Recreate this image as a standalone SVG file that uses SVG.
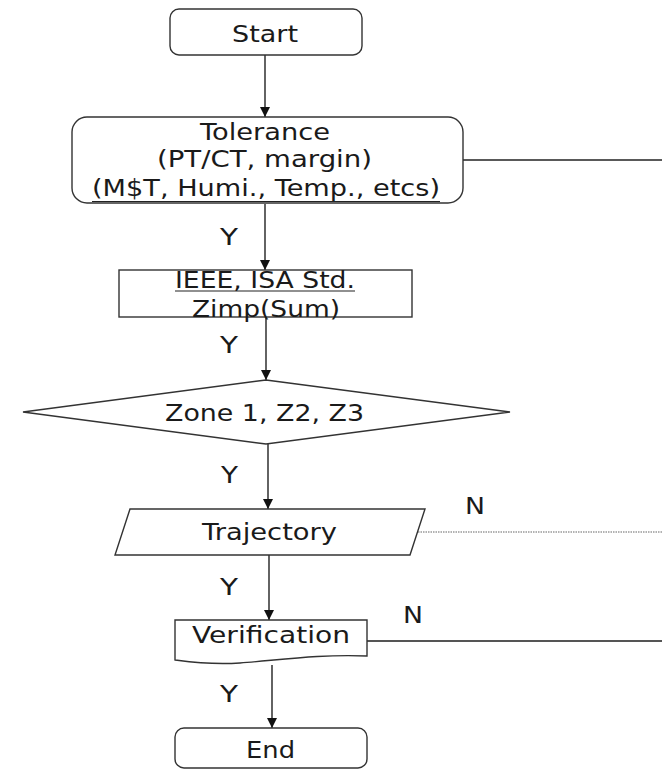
<svg xmlns="http://www.w3.org/2000/svg" width="662" height="772" viewBox="0 0 662 772">
<defs>
<style>
.s{fill:#fff;stroke:#333;stroke-width:1.4}
.t{font-family:"DejaVu Sans","Noto Sans",sans-serif;font-size:23px;fill:#1a1a1a;text-anchor:middle}
.l{font-family:"DejaVu Sans","Noto Sans",sans-serif;font-size:23px;fill:#1a1a1a}
.c{fill:none;stroke:#222;stroke-width:1.4}
.u{stroke:#222;stroke-width:1.2}
</style>
<marker id="ah" markerWidth="12" markerHeight="12" refX="10" refY="5.5" orient="auto" markerUnits="userSpaceOnUse">
<path d="M0,0.5 L10,5.5 L0,10.5 Z" fill="#111"/>
</marker>
</defs>
<rect width="662" height="772" fill="#fff"/>
<g id="connectors">
<line class="c" x1="265" y1="55" x2="265" y2="117" marker-end="url(#ah)"/>
<line class="c" x1="265" y1="204" x2="265" y2="270" marker-end="url(#ah)"/>
<line class="c" x1="266" y1="317" x2="266" y2="380" marker-end="url(#ah)"/>
<line class="c" x1="268" y1="444" x2="268" y2="509" marker-end="url(#ah)"/>
<line class="c" x1="269" y1="555" x2="269" y2="620" marker-end="url(#ah)"/>
<line class="c" x1="272" y1="665" x2="272" y2="728" marker-end="url(#ah)"/>
<line class="c" x1="463" y1="160" x2="662" y2="160"/>
<line x1="418" y1="532" x2="662" y2="532" stroke="#666" stroke-width="1.2" stroke-dasharray="1.5,1"/>
<line x1="367" y1="641" x2="662" y2="641" stroke="#555" stroke-width="1.8"/>
<text class="l" x="220" y="245" textLength="18" lengthAdjust="spacingAndGlyphs">Y</text>
<text class="l" x="220" y="353" textLength="18" lengthAdjust="spacingAndGlyphs">Y</text>
<text class="l" x="221" y="483" textLength="17" lengthAdjust="spacingAndGlyphs">Y</text>
<text class="l" x="220" y="595" textLength="18" lengthAdjust="spacingAndGlyphs">Y</text>
<text class="l" x="220" y="702" textLength="18" lengthAdjust="spacingAndGlyphs">Y</text>
<text class="l" x="465" y="514" textLength="20" lengthAdjust="spacingAndGlyphs">N</text>
<text class="l" x="403" y="623" textLength="20" lengthAdjust="spacingAndGlyphs">N</text>
</g>
<g id="start">
<rect class="s" x="170" y="9" width="192" height="46" rx="9"/>
<text class="t" x="265" y="42" textLength="66" lengthAdjust="spacingAndGlyphs">Start</text>
</g>
<g id="tolerance">
<rect class="s" x="72" y="117" width="391" height="86" rx="15"/>
<text class="t" x="265" y="140" textLength="130" lengthAdjust="spacingAndGlyphs">Tolerance</text>
<text class="t" x="264.5" y="167" textLength="215" lengthAdjust="spacingAndGlyphs">(PT/CT, margin)</text>
<text class="t" x="266" y="196" textLength="348" lengthAdjust="spacingAndGlyphs">(M$T, Humi., Temp., etcs)</text>
<line class="u" x1="92" y1="201.5" x2="440" y2="201.5"/>
</g>
<g id="standard">
<rect class="s" x="119" y="270" width="293" height="47"/>
<text class="t" x="265" y="288" textLength="180" lengthAdjust="spacingAndGlyphs">IEEE, ISA Std.</text>
<line class="u" x1="175" y1="291" x2="355" y2="291"/>
<text class="t" x="266" y="317" textLength="148" lengthAdjust="spacingAndGlyphs">Zimp(Sum)</text>
</g>
<g id="zone">
<polygon class="s" points="266,380 510,412 266,444 23,412"/>
<text class="t" x="264.5" y="421" textLength="199" lengthAdjust="spacingAndGlyphs">Zone 1, Z2, Z3</text>
</g>
<g id="trajectory">
<polygon class="s" points="130,509 425,509 410,555 115,555"/>
<text class="t" x="269.5" y="540" textLength="135" lengthAdjust="spacingAndGlyphs">Trajectory</text>
</g>
<g id="verification">
<path class="s" d="M175,620 L367,620 L367,656 C320,654 280,660 240,663 C210,665 190,662 175,660 Z"/>
<text class="t" x="271" y="643" textLength="158" lengthAdjust="spacingAndGlyphs">Verification</text>
</g>
<g id="end">
<rect class="s" x="175" y="728" width="192" height="40" rx="9"/>
<text class="t" x="270.5" y="758" textLength="49" lengthAdjust="spacingAndGlyphs">End</text>
</g>
</svg>
